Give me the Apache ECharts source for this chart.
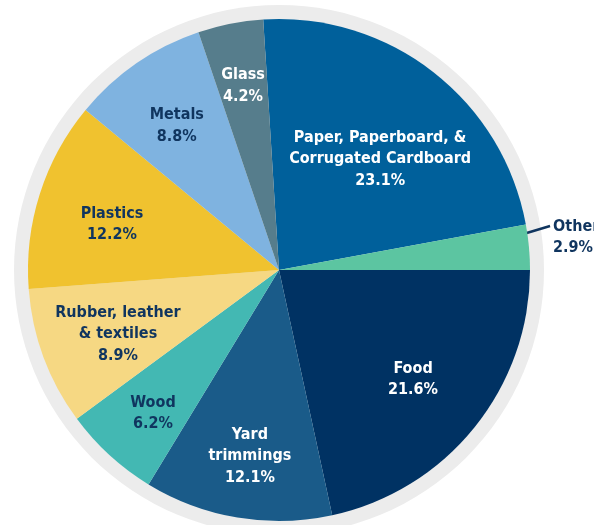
<!DOCTYPE html>
<html>
<head>
<meta charset="utf-8">
<script src="https://cdn.jsdelivr.net/npm/echarts@6/dist/echarts.min.js"></script>
<style>
html,body{margin:0;padding:0;background:#fff;}
#chart{width:594px;height:525px;}
</style>
</head>
<body>
<div id="chart"></div>
<script>
const categories = ['Paper, Paperboard, &\nCorrugated Cardboard', 'Other', 'Food', 'Yard\ntrimmings', 'Wood', 'Rubber, leather\n& textiles', 'Plastics', 'Metals', 'Glass'];
const percents = [23.1, 2.9, 21.6, 12.1, 6.2, 8.9, 12.2, 8.8, 4.2];

const colors = ['#00609b', '#5cc5a1', '#003263', '#1a5b89', '#43b8b3', '#f6d883', '#f0c22f', '#7fb3e0', '#567d8c'];
const labelColors = ['#ffffff', '#10355f', '#ffffff', '#ffffff', '#10355f', '#10355f', '#10355f', '#10355f', '#ffffff'];
const labelRadius = [0.601, 1.0, 0.687, 0.746, 0.758, 0.689, 0.691, 0.707, 0.751];
const labelAngleShift = [-4.1, 0, -0.1, 0.6, 1.0, 1.0, 2.0, 0.6, -0.15];

const CX = 279, CY = 270, R = 251, RING = 265, START = 93.6;
const total = percents.reduce((a, b) => a + b, 0);
const midAngles = [];
let acc = 0;
percents.forEach(v => { midAngles.push(START - (acc + v / 2) / total * 360); acc += v; });
const polar = (deg, r) => [CX + r * Math.cos(deg * Math.PI / 180), CY - r * Math.sin(deg * Math.PI / 180)];

const FONT = '"Liberation Sans Narrow", "DejaVu Sans Condensed", "Roboto Condensed", sans-serif';

const chart = echarts.init(document.getElementById('chart'), null, {renderer: 'canvas'});
chart.setOption({
  animation: false,
  series: [
    {
      type: 'pie', silent: true, center: [CX, CY], radius: [0, RING],
      data: [{value: 1, itemStyle: {color: '#ececec'}}],
      label: {show: false}, labelLine: {show: false}, z: 1
    },
    {
      type: 'pie', silent: true, center: [CX, CY], radius: [0, R],
      startAngle: START, clockwise: true, avoidLabelOverlap: false, z: 2,
      itemStyle: {borderWidth: 0},
      label: {
        show: true, position: 'inside',
        fontFamily: FONT, fontWeight: 'bold', fontSize: 16, lineHeight: 21.5,
        formatter: p => p.name + '\n' + p.value.toFixed(1) + '%'
      },
      labelLine: {show: false},
      data: categories.map((c, i) => ({
        name: c, value: percents[i],
        itemStyle: {color: colors[i]},
        label: i === 1
          ? {position: 'outside', color: labelColors[i], align: 'left'}
          : {color: labelColors[i]},
        labelLine: i === 1 ? {show: true, lineStyle: {color: '#10355f', width: 2.5}} : {show: false}
      })),
      labelLayout: function (p) {
        const i = p.dataIndex;
        const a = midAngles[i];
        if (i === 1) {
          const s = polar(a + 2.8, R * 0.943);
          const e = polar(a + 4.0, R * 1.094);
          return {
            x: e[0] + 3, y: e[1] + 11.5, align: 'left', verticalAlign: 'middle',
            labelLinePoints: [s, e, e]
          };
        }
        const pt = polar(a + labelAngleShift[i], R * labelRadius[i]);
        return {x: pt[0], y: pt[1] + 1, align: 'center', verticalAlign: 'middle'};
      }
    }
  ]
});
</script>
</body>
</html>
